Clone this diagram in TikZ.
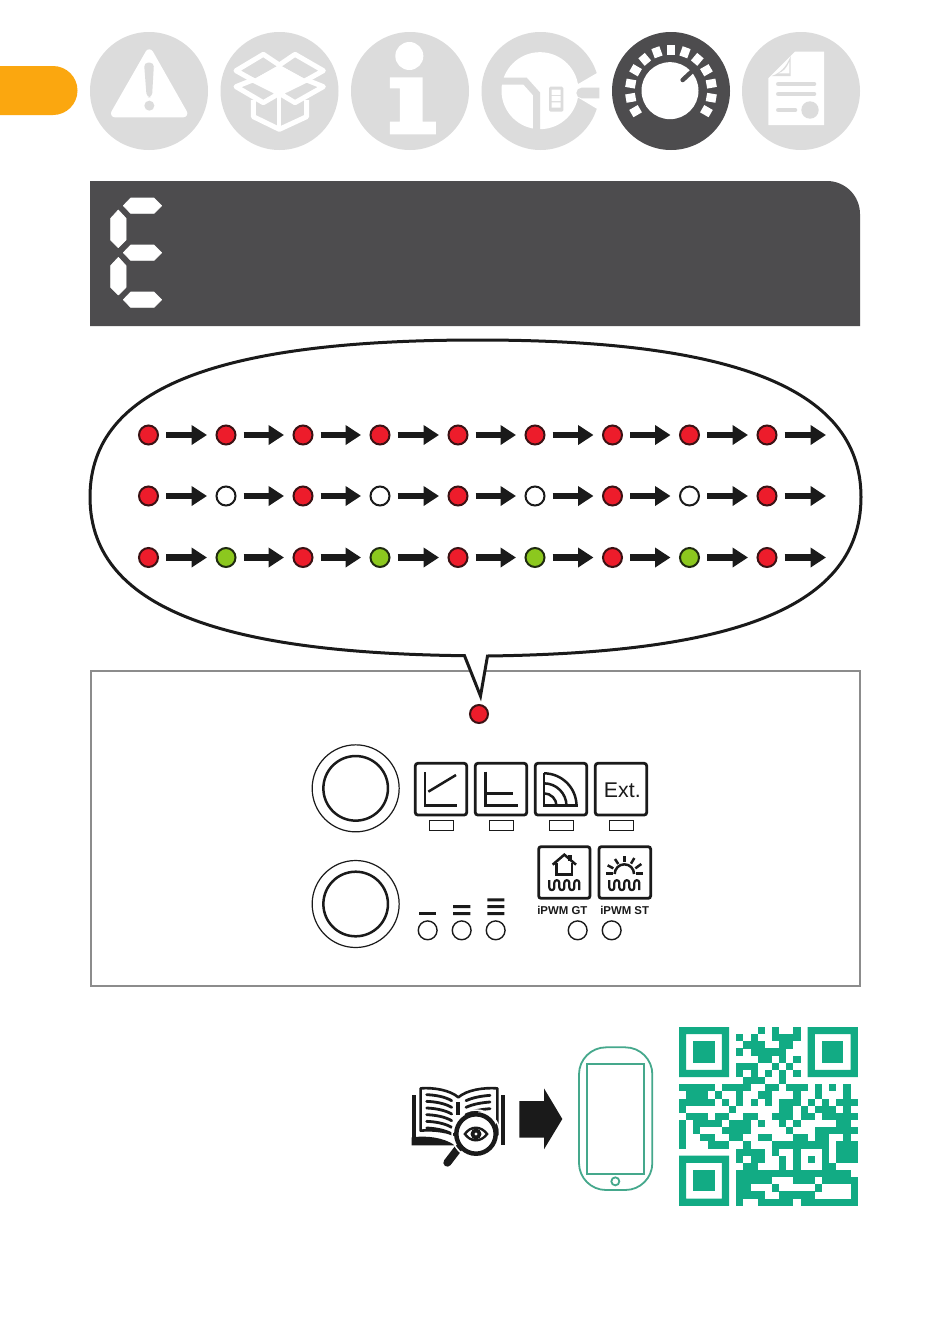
\documentclass[tikz,border=0pt]{standalone}
\usepackage{fontspec}
\setmainfont{Liberation Sans}
\usetikzlibrary{arrows.meta}
\definecolor{tabor}{HTML}{FBA70F}
\definecolor{lgray}{HTML}{DCDCDC}
\definecolor{dgray}{HTML}{4D4C4E}
\definecolor{ink}{HTML}{1A1A1A}
\definecolor{ledr}{HTML}{ED1C2B}
\definecolor{ledrb}{HTML}{3B1214}
\definecolor{ledg}{HTML}{8CC81E}
\definecolor{ledgb}{HTML}{1F2A10}
\definecolor{qrc}{HTML}{12AB84}
\definecolor{phonec}{HTML}{45A88C}
\definecolor{panelc}{HTML}{8C8C8C}
\tikzset{
  led/.style={circle,minimum size=19pt,inner sep=0pt,line width=2pt},
  seqarrow/.style={draw=ink,line width=6.5pt,-{Triangle[length=15.5pt,width=19pt,fill=ink]},shorten <=7pt},
  keybox/.style={draw=ink,line width=2.8pt,rounded corners=2.5pt},
  lamp/.style={draw=ink,line width=1.2pt},
  glyph/.style={draw=ink,line width=2.5pt},
  roundled/.style={draw=ink,line width=1.4pt},
  smalllabel/.style={inner sep=0pt,text=ink,font=\bfseries\fontsize{11.4}{11.4}\selectfont},
  zoomA/.style={x=0.33333pt,y=-0.33333pt},
}
\begin{document}
\begin{tikzpicture}[x=1pt,y=-1pt]
\useasboundingbox (0,0) rectangle (950,1339);
\fill[white] (0,0) rectangle (950,1339);
% tab
\fill[tabor] (0,66) -- (53,66) arc[start angle=90,end angle=-90,radius=24.5pt] -- (0,115) -- cycle;
% circles
\foreach \x in {149,279.5,410,540.5,801} \fill[lgray] (\x,91) circle[radius=59pt];
\fill[dgray] (671,91) circle[radius=59pt];
% warning
\begin{scope}[shift={(0,20)},zoomA]
\fill[white,draw=white,line width=8pt,line join=round] (448,100) -- (345,280) -- (550,280) -- cycle;
\fill[lgray,rounded corners=4pt] (432,128) -- (462,128) -- (456,232) -- (440,232) -- cycle;
\fill[lgray] (448,257) circle[radius=5pt];
% box
\begin{scope}[line join=round]
\draw[white,line width=5pt] (838,135) -- (790,103) -- (708,152) -- (758,180);
\draw[white,line width=5pt] (838,135) -- (885,103) -- (970,152) -- (920,180);
\fill[white] (758,180) -- (838,135) -- (920,180) -- (838,225) -- cycle;
\draw[white,fill=lgray,line width=5pt] (758,180) -- (708,200) -- (790,248) -- (838,220) -- cycle;
\draw[white,fill=lgray,line width=5pt] (920,180) -- (970,200) -- (885,248) -- (838,220) -- cycle;
\fill[white] (758,180) -- (838,135) -- (920,180) -- (838,222) -- cycle;
\draw[white,line width=5pt] (760,240) -- (760,290) -- (838,328) -- (920,290) -- (920,240);
\draw[white,line width=4pt] (838,222) -- (838,328);
\end{scope}
% info
\fill[white] (1228,108) circle[radius=14pt];
\fill[white] (1170,172) -- (1268,172) -- (1268,305) -- (1308,305) -- (1308,343) -- (1170,343) -- (1170,305) -- (1200,305) -- (1200,205) -- (1170,205) -- cycle;
\end{scope}
% wrench
\begin{scope}[shift={(470,20)},zoomA]
\fill[white] (210,212) circle[radius=38.5pt];
\fill[white] (290,212) -- (400,148) -- (400,278) -- cycle;
\draw[lgray,line width=7pt,line join=miter] (95,183) -- (165,183) -- (200,222) -- (200,342);
\fill[lgray,rounded corners=1.5pt] (237,200) rectangle (280,275);
\fill[white] (245,209) rectangle (272,225) (245,228) rectangle (272,243) (245,247) rectangle (272,263);
\fill[lgray] (388,203) -- (335,203) arc[start angle=90,end angle=270,radius=5.33pt] -- (388,235) -- cycle;
% knob
\fill[white] (600,212) circle[radius=28.5pt];
\draw[dgray,line width=4.5pt,line cap=round] (638,180) -- (665,155);
% document
\fill[white] (975,95) -- (1062,95) -- (1062,315) -- (895,315) -- (895,175) -- cycle;
\fill[lgray] (962,108) .. controls (950,140) and (930,160) .. (905,168) -- (962,168) -- cycle;
\fill[white] (958,125) .. controls (950,145) and (940,155) .. (925,160) -- (958,160) -- cycle;
\draw[lgray,line width=4.6pt,line cap=round] (925,192) -- (1032,192);
\draw[lgray,line width=4.6pt,line cap=round] (925,222) -- (1032,222);
\draw[lgray,line width=4.6pt,line cap=round] (925,270) -- (975,270);
\fill[lgray] (1020,270) circle[radius=8.7pt];
\end{scope}
% knob ticks
\foreach \a in {-30,-10,...,210}
  \fill[white,shift={(671,90.7)},rotate=\a] (36,-4.2) rectangle (45.8,4.2);
% header
\fill[dgray] (90,181) -- (827,181) arc[start angle=90,end angle=0,radius=33pt] -- (860,326) -- (90,326) -- cycle;
\begin{scope}[shift={(90,175)},zoomA]
\foreach \y in {92,233,374}
  \fill[white,draw=white,line width=0.6pt,line join=round] (100,\y) -- (122,\y-23) -- (192,\y-23) -- (215,\y) -- (192,\y+23) -- (122,\y+23) -- cycle;
\foreach \y in {105,247}
  \fill[white,draw=white,line width=0.6pt,line join=round] (85,\y) -- (108,\y+25) -- (108,\y+90) -- (85,\y+113) -- (62,\y+90) -- (62,\y+25) -- cycle;
\end{scope}
% panel
\draw[panelc,line width=1.8pt] (91,671) rectangle (860,986);
% bubble
\draw[ink,fill=white,line width=3pt,line join=miter]
  (90,497) .. controls (90,385) and (225,340) .. (478,340)
  .. controls (725,340) and (861,385) .. (861,497)
  .. controls (861,615) and (715,653) .. (487.5,656)
  -- (480.5,696) -- (464.5,655.7)
  .. controls (240,653) and (90,615) .. (90,497) -- cycle;
% LED rows
\foreach \rn/\y/\cc/\bb in {a/435/ledr/ledrb,b/496/white/ink,c/557.5/ledg/ledgb}{
  \foreach \x [count=\i] in {148.5,226,303,380,458,535,612.5,689.5,767}{
    \ifodd\i
      \node[led,fill=ledr,draw=ledrb] (\rn\i) at (\x,\y) {};
    \else
      \node[led,fill=\cc,draw=\bb] (\rn\i) at (\x,\y) {};
    \fi
  }
  \coordinate (\rn end) at (826,\y);
  \foreach \p/\q in {1/2,2/3,3/4,4/5,5/6,6/7,7/8,8/9}
    \draw[seqarrow,shorten >=8.5pt] (\rn\p) -- (\rn\q);
  \draw[seqarrow] (\rn9) -- (\rn end);
}
% panel LED
\node[led,fill=ledr,draw=ledrb,minimum size=18pt] (mainled) at (479,714) {};
% panel controls
\begin{scope}[shift={(300,740)},zoomA]
\foreach \y in {145,492}{
  \draw[ink,line width=1.2pt] (167,\y) circle[radius=43.5pt];
  \draw[ink,line width=2.5pt] (167,\y) circle[radius=32.3pt];
}
\foreach \x in {346,526,706,886}{
  \draw[keybox] (\x,70) rectangle ++(154,155);
  \draw[lamp] (\x+42,241) rectangle ++(72,30);
}
\draw[glyph] (375,97) -- (375,197) -- (472,197);
\draw[glyph] (385,155) -- (468,105);
\draw[glyph] (556,95) -- (556,197) -- (655,197);
\draw[glyph] (556,160) -- (640,160);
\draw[glyph] (732,100) -- (732,197) -- (833,197);
\draw[glyph] (732,100) arc[start angle=90,end angle=0,radius=32.5pt];
\draw[glyph] (732,130) arc[start angle=90,end angle=0,radius=22.5pt];
\draw[glyph] (732,160) arc[start angle=90,end angle=0,radius=12.5pt];
\node[inner sep=0pt,text=ink,font=\fontsize{21.3}{21.3}\selectfont] (exttext) at (967,150) {Ext.};
\draw[keybox] (716,320) rectangle (870,475);
\draw[keybox] (897,320) rectangle (1052,475);
% house
\draw[glyph,line join=miter] (758,374) -- (793,344) -- (828,374);
\draw[glyph] (770,370) -- (770,403) -- (816,403) -- (816,370);
\fill[ink] (804,344) rectangle (816,362);
% wave
\foreach \ox in {0,180}{
\draw[ink,line width=2.2pt,line join=round,line cap=butt,shift={(\ox,0)}]
  (748,420) -- (748,443) arc[start angle=180,end angle=360,radius=2.5pt]
  -- (763,428) arc[start angle=180,end angle=0,radius=2.5pt]
  -- (778,443) arc[start angle=180,end angle=360,radius=2.5pt]
  -- (793,428) arc[start angle=180,end angle=0,radius=2.5pt]
  -- (808,443) arc[start angle=180,end angle=360,radius=2.5pt]
  -- (823,428) arc[start angle=180,end angle=0,radius=2.5pt] -- (838,450);
}
% sun
\draw[glyph] (944,402) arc[start angle=180,end angle=0,radius=9.7pt];
\draw[glyph] (918,401) -- (938,401);
\draw[glyph] (1008,401) -- (1030,401);
\draw[glyph] (923,376) -- (940,385);
\draw[glyph] (1024,372) -- (1006,385);
\draw[glyph] (945,357) -- (955,372);
\draw[glyph] (974,349) -- (974,366);
\draw[glyph] (1003,354) -- (993,371);
% labels
\node[smalllabel] (gtlabel) at (787,512) {iPWM GT};
\node[smalllabel] (stlabel) at (974,512) {iPWM ST};
% round leds
\foreach \x in {383,485,587,833,935}
  \draw[roundled,fill=white] (\x,571) circle[radius=9.4pt];
% bars
\fill[ink] (357,516) rectangle (408,525);
\fill[ink] (459,495) rectangle (511,504) (459,516) rectangle (511,525);
\fill[ink] (562,475) rectangle (613,484) (562,495) rectangle (613,504) (562,516) rectangle (613,525);
\end{scope}
% book + arrow + phone
\begin{scope}[shift={(400,1040)},zoomA]
\fill[ink] (35,165) rectangle (47,316);
\fill[ink] (303,165) rectangle (315,316);
\fill[ink] (35,292) .. controls (80,286) and (130,292) .. (165,316) -- (35,316) -- cycle;
\draw[ink,line width=2.6pt,fill=white,line join=round]
  (62,145) .. controls (100,142) and (150,150) .. (175,172)
  .. controls (200,150) and (250,142) .. (292,145)
  -- (292,285) -- (175,290) .. controls (150,275) and (100,268) .. (62,272) -- cycle;
\foreach \y in {0,1,2,3,4,5}{
  \draw[ink,line width=2.8pt,line cap=round] (80,164+\y*20) .. controls (105,165+\y*20) and (135,170+\y*20) .. (155,182+\y*20);
}
\foreach \y in {0,1,2}{
  \draw[ink,line width=2.8pt,line cap=round] (198,182+\y*20) .. controls (220,172+\y*20) and (245,168+\y*20) .. (270,166+\y*20);
}
\fill[ink] (168,185) rectangle (180,225);
\draw[ink,line width=8pt,line cap=round] (175,325) -- (142,368);
\draw[white,line width=1.5pt] (228,282) circle[radius=24pt];
\draw[ink,line width=4.5pt,fill=white] (228,282) circle[radius=19.7pt];
\fill[ink] (190,282) .. controls (210,252) and (245,252) .. (266,282) .. controls (245,312) and (210,312) .. (190,282) -- cycle;
\fill[white] (200,282) .. controls (215,262) and (240,262) .. (256,282) .. controls (240,302) and (215,302) .. (200,282) -- cycle;
\fill[ink] (228,282) circle[radius=5.5pt];
\fill[white] (228,282) circle[radius=1.6pt];
% big arrow
\fill[ink] (358,183) -- (432,183) -- (432,145) -- (487,237) -- (432,328) -- (432,293) -- (358,293) -- cycle;
% phone
\draw[phonec,line width=1.8pt,rounded corners=27pt] (537,22) rectangle (757,450);
\draw[phonec,line width=1.8pt] (560,72) rectangle (733,402);
\draw[phonec,line width=1.8pt] (646,424) circle[radius=4pt];
\end{scope}
% QR
\foreach \fx/\fy in {0/0,18/0,0/18}{
  \fill[qrc,even odd rule] ({679+\fx*7.15},{1027+\fy*7.15}) rectangle ++(50.05,50.05)
     ({679+(\fx+1)*7.15},{1027+(\fy+1)*7.15}) rectangle ++(35.75,35.75);
  \fill[qrc] ({679+(\fx+2)*7.15},{1027+(\fy+2)*7.15}) rectangle ++(21.45,21.45);
}
\foreach \r/\runs in {
  0/{11,13,16},
  1/{8,10,13/16},
  2/{9/11,14/15},
  3/{8,10/14},
  4/{11/12,14,16},
  5/{8/10,13,15},
  6/{8,10,12,14,16},
  7/{9/11,14},
  8/{0/4,6/9,12/13,15/17,19,21,23},
  9/{1/3,5,8,11/12,16,19,23},
  10/{0/4,6,8,10,12,14/16,18,20,22/24},
  11/{0,7,14/15,17,19/21,23},
  12/{1/3,5/6,9/10,13/15,17/18,20/24},
  13/{0,2/5,7/9,11,14,16,22/23},
  14/{0,2,6/9,15,19/24},
  15/{0,3/4,7/8,11/12,16/17,19/20,23},
  16/{0,4/6,9,13/20,22/24},
  17/{8/11,13,16,20,22/24},
  18/{8,10/11,14,16,18,20,22/24},
  19/{9/10,14,16,20,21},
  20/{8/23},
  21/{8/12,16/18,20/24},
  22/{8/9,13,19,24},
  23/{8/11,14/18,24},
  24/{8,11/15,17/24}}{
  \foreach \a/\b in \runs
    \fill[qrc] ({679+\a*7.15},{1027+\r*7.15}) rectangle ({679+(\b+1)*7.15},{1027+(\r+1)*7.15+0.05});
}
\end{tikzpicture}
\end{document}
